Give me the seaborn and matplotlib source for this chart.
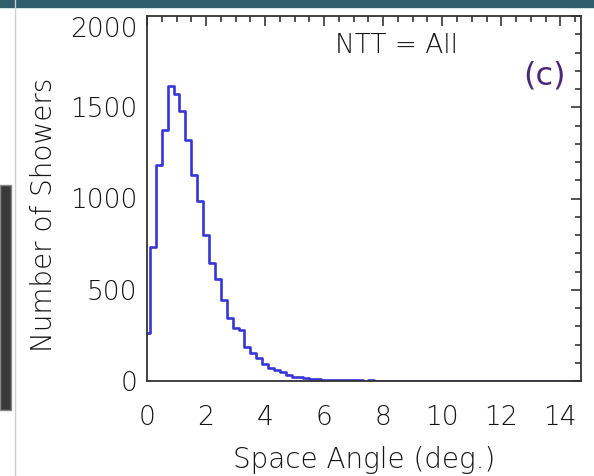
import numpy as np
import pandas as pd
import matplotlib
matplotlib.use("Agg")
import matplotlib.pyplot as plt
import matplotlib.transforms as mtransforms
import seaborn as sns
from matplotlib.ticker import MultipleLocator
from matplotlib.patches import Rectangle

# histogram: bin edges (deg.) and counts per bin
bin_edges = [0.0] + [round(0.1 + 0.2 * k, 1) for k in range(41)] + [14.7]
counts = [263,
          733, 1182, 1374, 1615, 1573, 1478, 1319, 1131, 988, 802,
          647, 557, 444, 343, 290, 278, 185, 152, 124, 93,
          72, 60, 51, 33, 24, 20, 16, 12, 9, 7,
          6, 5, 4, 4, 3, 3, 2, 3, 2, 1,
          0]
x_ticks = [0, 2, 4, 6, 8, 10, 12, 14]
y_ticks = [0, 500, 1000, 1500, 2000]

edges = np.array(bin_edges)
centers = (edges[:-1] + edges[1:]) / 2
df = pd.DataFrame({"angle": centers, "n": counts})

sns.set_style("white")
plt.rcParams["font.family"] = ["DejaVu Sans"]
plt.rcParams["font.weight"] = "light"

txt = "#141414"

fig = plt.figure(figsize=(5.94, 4.76), dpi=100)
ax = fig.add_axes([147/594, 1 - 381/476, (581-147)/594, (381-16)/476])

sns.histplot(data=df, x="angle", weights="n", bins=bin_edges,
             element="step", fill=False, color="#3535d8", linewidth=1.9, ax=ax)

ax.set_xlim(0, 14.7)
ax.set_ylim(0, 2000)
ax.set_xticks(x_ticks)
ax.set_yticks(y_ticks)
ax.xaxis.set_minor_locator(MultipleLocator(0.5))
ax.yaxis.set_minor_locator(MultipleLocator(100))
ax.tick_params(which="both", direction="in", top=True, right=True,
               color="#333333", width=1.2)
ax.tick_params(which="major", length=7)
ax.tick_params(which="minor", length=4)
ax.tick_params(axis="x", which="major", labelsize=19, pad=17, labelcolor=txt)
ax.tick_params(axis="y", which="major", labelsize=19, pad=7, labelcolor=txt)
for s in ax.spines.values():
    s.set_color("#333333")
    s.set_linewidth(1.3)

# top y label sits a little below its tick, as in the original
top_lab = ax.get_yticklabels()[-1]
top_lab.set_transform(top_lab.get_transform() +
                      mtransforms.ScaledTranslation(0, -11/100, fig.dpi_scale_trans))

ax.set_xlabel("Space Angle (deg.)", fontsize=20, color=txt, fontweight="light",
              labelpad=12)
ax.set_ylabel("Number of Showers", fontsize=20, color=txt, fontweight="light")
ax.yaxis.set_label_coords(-0.205, 0.455)
ax.text(0.576, 0.92, "NTT = All", transform=ax.transAxes, ha="center",
        va="center", fontsize=19, color=txt)
ax.text(0.917, 0.836, "(c)", transform=ax.transAxes, ha="center",
        va="center", fontsize=23, color="#4a2a78", fontweight="normal")

# bits of the slide around the chart
fig.patches.append(Rectangle((0, 1 - 7/476), 1, 7/476, transform=fig.transFigure,
                             color="#2e5f6a", zorder=0))
fig.lines.append(plt.Line2D([15/594, 15/594], [0, 1], transform=fig.transFigure,
                            color="#cfcfcf", linewidth=1))
fig.patches.append(Rectangle((0, 1 - 410/476), 11/594, 225/476, transform=fig.transFigure,
                             facecolor="#3a3a3a", edgecolor="#888888", zorder=0))

fig.savefig("out.png", dpi=100)
